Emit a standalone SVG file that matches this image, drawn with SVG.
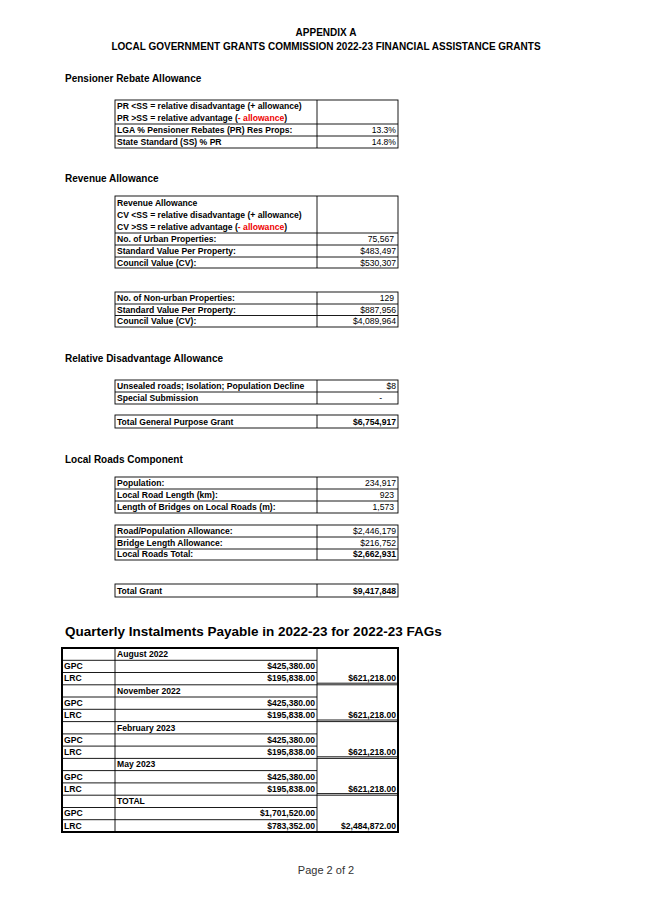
<svg xmlns="http://www.w3.org/2000/svg" width="653" height="923" viewBox="0 0 653 923">
<style>
text{font-family:"Liberation Sans",Arial,sans-serif;fill:#000}
.h{font-size:10px;font-weight:bold}
.t{font-size:8.6px;font-weight:bold}
.n{font-size:8.6px;text-anchor:end}
.nb{font-size:8.6px;text-anchor:end;font-weight:bold}
.r{fill:#e00}
.b{fill:none;stroke:#000;stroke-width:0.9}
.k{fill:none;stroke:#000;stroke-width:2}
</style>
<rect width="653" height="923" fill="#fff"/>
<g id="title">
<text class="h" x="326" y="36" text-anchor="middle">APPENDIX A</text>
<text class="h" x="326" y="50" text-anchor="middle">LOCAL GOVERNMENT GRANTS COMMISSION 2022-23 FINANCIAL ASSISTANCE GRANTS</text>
</g>
<g id="pensioner">
<text class="h" x="65" y="82">Pensioner Rebate Allowance</text>
<rect class="b" x="115" y="100" width="283" height="48"/>
<path class="b" d="M317 100V148M115 124H398M115 136H398"/>
<text class="t" x="117" y="109">PR &lt;SS = relative disadvantage (+ allowance)</text>
<text class="t" x="117" y="121">PR &gt;SS = relative advantage (<tspan class="r">- allowance</tspan>)</text>
<text class="t" x="117" y="133">LGA % Pensioner Rebates (PR) Res Props:</text>
<text class="n" x="396" y="133">13.3%</text>
<text class="t" x="117" y="145">State Standard (SS) % PR</text>
<text class="n" x="396" y="145">14.8%</text>
</g>
<g id="revenue">
<text class="h" x="65" y="182">Revenue Allowance</text>
<rect class="b" x="115" y="196" width="283" height="72"/>
<path class="b" d="M317 196V268M115 233H398M115 245H398M115 257H398"/>
<text class="t" x="117" y="206">Revenue Allowance</text>
<text class="t" x="117" y="218">CV &lt;SS = relative disadvantage (+ allowance)</text>
<text class="t" x="117" y="230">CV &gt;SS = relative advantage (<tspan class="r">- allowance</tspan>)</text>
<text class="t" x="117" y="242">No. of Urban Properties:</text>
<text class="n" x="394" y="242">75,567</text>
<text class="t" x="117" y="254">Standard Value Per Property:</text>
<text class="n" x="396" y="254">$483,497</text>
<text class="t" x="117" y="266">Council Value (CV):</text>
<text class="n" x="396" y="266">$530,307</text>
</g>
<g id="nonurban">
<rect class="b" x="115" y="292" width="283" height="35"/>
<path class="b" d="M317 292V327M115 304H398M115 315.5H398"/>
<text class="t" x="117" y="301">No. of Non-urban Properties:</text>
<text class="n" x="394" y="301">129</text>
<text class="t" x="117" y="313">Standard Value Per Property:</text>
<text class="n" x="396" y="313">$887,956</text>
<text class="t" x="117" y="324">Council Value (CV):</text>
<text class="n" x="396" y="324">$4,089,964</text>
</g>
<g id="disadvantage">
<text class="h" x="65" y="362">Relative Disadvantage Allowance</text>
<rect class="b" x="115" y="380" width="283" height="24"/>
<path class="b" d="M317 380V404M115 392H398"/>
<text class="t" x="117" y="389">Unsealed roads; Isolation; Population Decline</text>
<text class="n" x="396" y="389">$8</text>
<text class="t" x="117" y="401">Special Submission</text>
<text class="n" x="382" y="401">-</text>
<rect class="b" x="115" y="415" width="283" height="13"/>
<path class="b" d="M317 415V428"/>
<text class="t" x="117" y="425">Total General Purpose Grant</text>
<text class="nb" x="396" y="425">$6,754,917</text>
</g>
<g id="roads">
<text class="h" x="65" y="463">Local Roads Component</text>
<rect class="b" x="115" y="477" width="283" height="36"/>
<path class="b" d="M317 477V513M115 489H398M115 501H398"/>
<text class="t" x="117" y="486">Population:</text>
<text class="n" x="396" y="486">234,917</text>
<text class="t" x="117" y="498">Local Road Length (km):</text>
<text class="n" x="394" y="498">923</text>
<text class="t" x="117" y="510">Length of Bridges on Local Roads (m):</text>
<text class="n" x="394" y="510">1,573</text>
<rect class="b" x="115" y="525" width="283" height="35"/>
<path class="b" d="M317 525V560M115 537H398M115 549H398"/>
<text class="t" x="117" y="534">Road/Population Allowance:</text>
<text class="n" x="396" y="534">$2,446,179</text>
<text class="t" x="117" y="546">Bridge Length Allowance:</text>
<text class="n" x="396" y="546">$216,752</text>
<text class="t" x="117" y="557">Local Roads Total:</text>
<text class="nb" x="396" y="557">$2,662,931</text>
<rect class="b" x="115" y="584" width="283" height="13"/>
<path class="b" d="M317 584V597"/>
<text class="t" x="117" y="594">Total Grant</text>
<text class="nb" x="396" y="594">$9,417,848</text>
</g>
<g id="quarterly">
<text x="65" y="636" style="font-size:13.5px;font-weight:bold">Quarterly Instalments Payable in 2022-23 for 2022-23 FAGs</text>
<rect class="k" x="62" y="648" width="336" height="184"/>
<path class="b" d="M115 648V832M317 648V832
M62 660.3H317M62 672.5H317M62 684.8H398M62 697H317M62 709.3H317M62 721.6H398M62 733.9H317M62 746.1H317M62 758.4H398M62 770.6H317M62 782.9H317M62 795.2H398M62 807.5H317M62 819.7H317
M317 683.2H398M317 720H398M317 756.8H398M317 793.6H398"/>
<g class="t">
<text x="117" y="657">August 2022</text><text x="64" y="669">GPC</text><text x="64" y="681">LRC</text>
<text x="117" y="694">November 2022</text><text x="64" y="706">GPC</text><text x="64" y="718">LRC</text>
<text x="117" y="731">February 2023</text><text x="64" y="743">GPC</text><text x="64" y="755">LRC</text>
<text x="117" y="767">May 2023</text><text x="64" y="780">GPC</text><text x="64" y="792">LRC</text>
<text x="117" y="804">TOTAL</text><text x="64" y="816">GPC</text><text x="64" y="829">LRC</text>
</g>
<g class="nb">
<text x="315" y="669">$425,380.00</text><text x="315" y="681">$195,838.00</text><text x="396" y="681">$621,218.00</text>
<text x="315" y="706">$425,380.00</text><text x="315" y="718">$195,838.00</text><text x="396" y="718">$621,218.00</text>
<text x="315" y="743">$425,380.00</text><text x="315" y="755">$195,838.00</text><text x="396" y="755">$621,218.00</text>
<text x="315" y="780">$425,380.00</text><text x="315" y="792">$195,838.00</text><text x="396" y="792">$621,218.00</text>
<text x="315" y="816">$1,701,520.00</text><text x="315" y="829">$783,352.00</text><text x="396" y="829">$2,484,872.00</text>
</g>
</g>
<text x="326" y="874" text-anchor="middle" style="font-size:11px;fill:#333">Page 2 of 2</text>
</svg>
